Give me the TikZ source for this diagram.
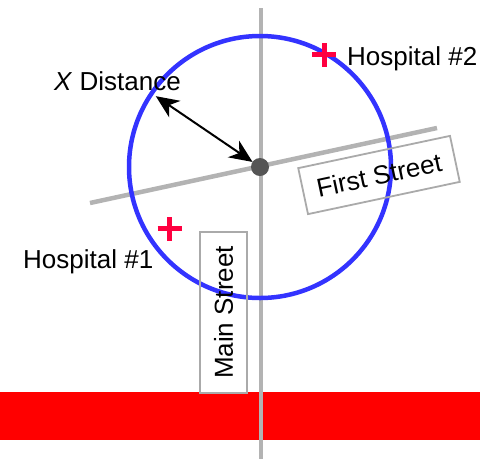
\documentclass[tikz,border=0pt]{standalone}
\usepackage{fontspec}
\setmainfont{Liberation Sans}
\usetikzlibrary{arrows.meta,calc}
\definecolor{roadgray}{HTML}{B3B3B3}
\definecolor{boxgray}{HTML}{AAAAAA}
\definecolor{ringblue}{HTML}{3333FF}
\definecolor{crossred}{HTML}{FF0040}
\definecolor{dotgray}{HTML}{555555}
\tikzset{
  road/.style={draw=roadgray, line width=4.5pt},
  streetbox/.style={draw=boxgray, line width=1.8pt, inner xsep=14pt, minimum height=47pt, font=\fontsize{26}{30}\selectfont},
  lbl/.style={font=\fontsize{26}{30}\selectfont, inner sep=0pt, anchor=base west},
  crossmark/.style={draw=crossred, line width=5pt},
  bigtip/.tip={Stealth[length=23pt,width=20pt,inset=7pt]},
  distarrow/.style={line width=2pt, bigtip-bigtip},
}
\begin{document}
\begin{tikzpicture}[x=1pt,y=1pt]
\useasboundingbox (0,0) rectangle (480,-459);
% red band
\fill[red] (0,-392) rectangle (480,-440);
% roads
\coordinate (mainTop) at (261,-8);
\coordinate (mainBot) at (261,-459);
\coordinate (firstW) at (90,-203);
\coordinate (firstE) at (437,-128);
\draw[road] (firstW) -- (firstE);
\draw[road] (mainTop) -- (mainBot);
% circle
\coordinate (c) at (260,-167);
\draw[ringblue, line width=4.5pt] (c) circle[radius=131];
% center dot
\fill[dotgray] (c) circle[radius=9];
% distance arrow
\coordinate (aIn) at ($(c)+(145.8:9)$);
\coordinate (aOut) at ($(c)+(145.8:126)$);
\draw[distarrow] (aIn) -- (aOut);
% street labels
\node[streetbox, rotate=12] (first) at (379,-175) {First Street};
\node[streetbox, rotate=90] (main) at (223.5,-312.5) {Main Street};
% hospitals
\coordinate (h2) at (324,-54.5);
\draw[crossmark] ($(h2)+(-12,0)$) -- ($(h2)+(12,0)$) ($(h2)+(0,-12)$) -- ($(h2)+(0,12)$);
\coordinate (h1) at (169.5,-228.5);
\draw[crossmark] ($(h1)+(-12,0)$) -- ($(h1)+(12,0)$) ($(h1)+(0,-12)$) -- ($(h1)+(0,12)$);
\node[lbl] (h2lbl) at (347,-65) {Hospital \#2};
\node[lbl] (h1lbl) at (23,-268) {Hospital \#1};
\node[lbl] (xlbl) at (54,-90) {\textit{X} Distance};
\end{tikzpicture}
\end{document}
